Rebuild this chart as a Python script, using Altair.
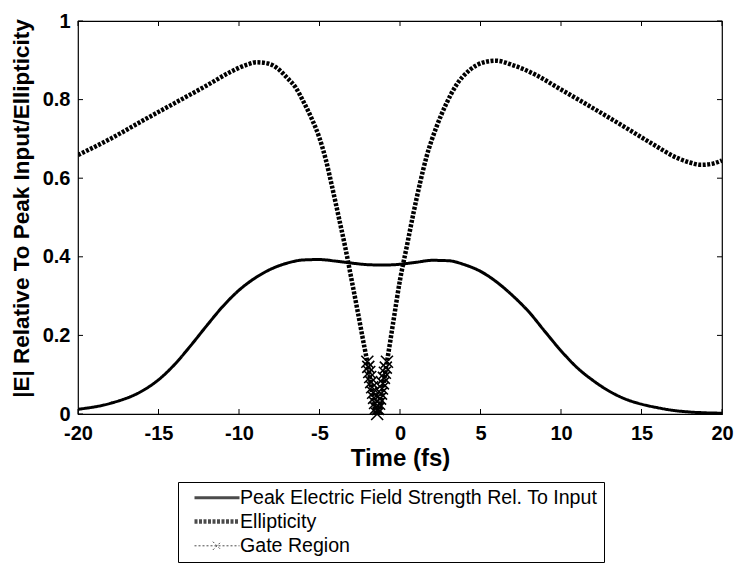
import altair as alt
import pandas as pd

# ---------------- data ----------------
series = ["Peak Electric Field Strength Rel. To Input", "Ellipticity", "Gate Region"]

peak_t = [-20, -18, -16, -15, -14, -13, -12, -11, -10, -9, -8, -7, -6, -5, -4, -3, -2, -1,
          0, 1, 2, 3, 4, 5, 6, 7, 8, 9, 10, 11, 12, 13, 14, 15, 16, 17, 18, 19, 20]
peak_v = [0.012, 0.027, 0.059, 0.087, 0.126, 0.174, 0.225, 0.274, 0.315, 0.346, 0.369, 0.384,
          0.392, 0.393, 0.389, 0.384, 0.380, 0.379, 0.381, 0.386, 0.391, 0.390, 0.380, 0.363,
          0.336, 0.301, 0.260, 0.210, 0.161, 0.118, 0.085, 0.058, 0.038, 0.025, 0.016, 0.009,
          0.005, 0.003, 0.002]

ell_t = [-20, -18, -16, -14, -12, -10.5, -9.5, -8.9, -8.2, -7.6, -7.0, -6.5, -6.0, -5.5, -5.0,
         -4.6, -4.2, -3.8, -3.4, -3.0, -2.6, -2.2, -2.03, -1.42, -0.81, -0.4, 0.0, 0.42, 0.83,
         1.24, 1.65, 2.27, 2.88, 3.5, 4.32, 5.14, 5.96, 6.99, 8.43, 9.86, 11.5, 13.56, 15.61,
         17.25, 18.0, 18.69, 19.3, 20]
ell_v = [0.659, 0.700, 0.746, 0.791, 0.836, 0.871, 0.889, 0.895, 0.892, 0.879, 0.855, 0.832,
         0.795, 0.753, 0.702, 0.646, 0.575, 0.500, 0.424, 0.340, 0.255, 0.168, 0.133, 0.0,
         0.133, 0.239, 0.341, 0.426, 0.510, 0.587, 0.655, 0.731, 0.790, 0.837, 0.875, 0.894,
         0.899, 0.888, 0.863, 0.829, 0.790, 0.740, 0.689, 0.651, 0.640, 0.634, 0.636, 0.645]

gate_t = [-2.03, -1.97, -1.91, -1.85, -1.79, -1.73, -1.67, -1.61, -1.55, -1.49, -1.42,
          -1.36, -1.30, -1.24, -1.18, -1.12, -1.06, -1.00, -0.94, -0.88, -0.81]
gate_v = [0.133, 0.120, 0.107, 0.094, 0.081, 0.068, 0.054, 0.041, 0.028, 0.015, 0.0,
          0.013, 0.026, 0.039, 0.052, 0.065, 0.078, 0.092, 0.105, 0.118, 0.133]

x_ticks = [-20, -15, -10, -5, 0, 5, 10, 15, 20]
y_ticks = [0, 0.2, 0.4, 0.6, 0.8, 1]

# ---------------- tables ----------------
lines_df = pd.concat([
    pd.DataFrame({"t": peak_t, "v": peak_v, "s": series[0]}),
    pd.DataFrame({"t": ell_t, "v": ell_v, "s": series[1]}),
    pd.DataFrame({"t": gate_t, "v": gate_v, "s": series[2]}),
], ignore_index=True)
gate_df = pd.DataFrame({"t": gate_t, "v": gate_v, "s": series[2]})
xt_df = pd.DataFrame({"t": x_ticks})
yt_df = pd.DataFrame({"v": y_ticks})

W, H = 644, 393
FONT = "Liberation Sans"
TL = 5  # inward tick length

xs = alt.Scale(domain=[-20, 20], nice=False, zero=False)
ys = alt.Scale(domain=[0, 1], nice=False, zero=False)

x_axis = alt.Axis(values=x_ticks, labelExpr="'' + datum.value", title="Time (fs)",
                  ticks=False, domain=False, grid=False, labelFlush=False,
                  labelOverlap=False, labelFont=FONT, labelFontSize=20,
                  labelFontWeight="bold", labelColor="black", labelPadding=9,
                  titleFont=FONT, titleFontSize=24, titleFontWeight="bold",
                  titleColor="black", titlePadding=3)
y_axis = alt.Axis(values=y_ticks, labelExpr="'' + datum.value",
                  title="|E| Relative To Peak Input/Ellipticity",
                  ticks=False, domain=False, grid=False, labelFlush=False,
                  labelOverlap=False, labelFont=FONT, labelFontSize=20,
                  labelFontWeight="bold", labelColor="black", labelPadding=8,
                  titleFont=FONT, titleFontSize=22.5, titleFontWeight="bold",
                  titleColor="black", titleX=-57, titleY=187,
                  titleAlign="center", titleBaseline="middle", titleAngle=270)

line_path = "M-3,0H3"
gate_path = "M-3,0H3M-0.55,-0.55L0.55,0.55M-0.55,0.55L0.55,-0.55"


def make_legend():
    return alt.Legend(
        title=None, orient="none", legendX=100, legendY=461, direction="vertical",
        symbolSize=225, symbolStrokeColor="black", symbolFillColor="transparent",
        symbolOffset=23, labelOffset=13,
        labelFont=FONT, labelFontSize=19.6, labelColor="black", labelLimit=0,
        strokeColor="black", fillColor="white", padding=6, rowPadding=3.5,
    )


lines = alt.Chart(lines_df).mark_line(color="black", interpolate="monotone", clip=True).encode(
    x=alt.X("t:Q", scale=xs, axis=x_axis),
    y=alt.Y("v:Q", scale=ys, axis=y_axis),
    detail="s:N",
    strokeDash=alt.StrokeDash("s:N", scale=alt.Scale(domain=series, range=[[1, 0], [3, 1.5], [2, 2]]),
                              legend=make_legend()),
    strokeWidth=alt.StrokeWidth("s:N", scale=alt.Scale(type="ordinal", domain=series,
                                                       range=[3, 4.5, 1]),
                                legend=make_legend()),
)

# legend-only layer: supplies the symbol shapes (line sample, line sample with an x)
legend_shapes = alt.Chart(gate_df).transform_filter("false").mark_point(
    color="black", filled=False
).encode(
    x=alt.X("t:Q", scale=xs), y=alt.Y("v:Q", scale=ys),
    shape=alt.Shape("s:N", scale=alt.Scale(domain=series, range=[line_path, line_path, gate_path]),
                    legend=make_legend()),
)

markers = alt.Chart(gate_df).mark_point(
    shape="M-1,-1L1,1M-1,1L1,-1", size=144, color="black", strokeWidth=1.6, filled=False, opacity=1
).encode(x=alt.X("t:Q", scale=xs), y=alt.Y("v:Q", scale=ys))

tick_style = dict(color="black", strokeWidth=1)
xt_bot = alt.Chart(xt_df).mark_rule(**tick_style).encode(
    x=alt.X("t:Q", scale=xs), y=alt.value(H), y2=alt.value(H - TL))
xt_top = alt.Chart(xt_df).mark_rule(**tick_style).encode(
    x=alt.X("t:Q", scale=xs), y=alt.value(0), y2=alt.value(TL))
yt_left = alt.Chart(yt_df).mark_rule(**tick_style).encode(
    y=alt.Y("v:Q", scale=ys), x=alt.value(0), x2=alt.value(TL))
yt_right = alt.Chart(yt_df).mark_rule(**tick_style).encode(
    y=alt.Y("v:Q", scale=ys), x=alt.value(W), x2=alt.value(W - TL))

chart = alt.layer(lines, legend_shapes, markers, xt_bot, xt_top, yt_left, yt_right).properties(
    width=W, height=H,
    autosize=alt.AutoSizeParams(type="none"),
    padding={"left": 70, "top": 13, "right": 12, "bottom": 152},
    background="white",
).configure_view(stroke="black", strokeWidth=1.2)

chart.save("out.html", embed_options={"renderer": "svg", "actions": False})
